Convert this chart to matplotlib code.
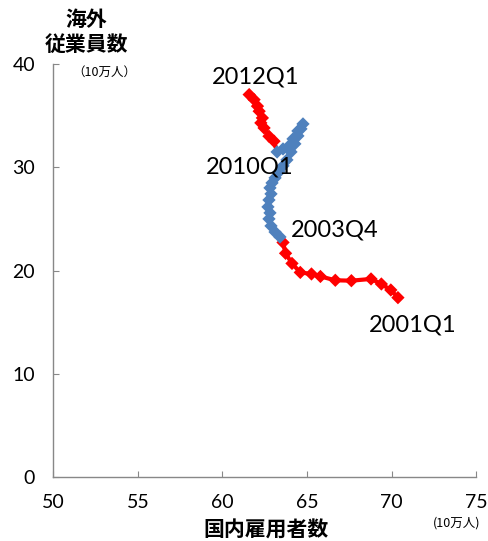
import matplotlib
matplotlib.use("Agg")
import matplotlib.pyplot as plt
import numpy as np

plt.rcParams['font.family'] = ['Lato', 'Noto Sans CJK JP', 'DejaVu Sans']

# Quarterly path: domestic employees (x) vs overseas employees (y), units of 100k people
quarters = [f"{y}Q{q}" for y in range(2001, 2013) for q in range(1, 5)][:45]

domestic = [
    70.37, 69.95, 69.39, 68.78, 67.62, 66.67, 65.79, 65.26, 64.60, 64.11, 63.73, 63.58,
    63.40, 63.11, 62.87, 62.75, 62.81, 62.69, 62.75, 62.87, 62.81, 62.93, 63.11, 63.34,
    63.58, 63.81, 64.05, 64.28, 64.46, 64.64, 64.76, 64.46, 64.17, 63.93, 63.58, 63.23,
    63.05, 62.75, 62.46, 62.27, 62.36, 62.17, 62.07, 61.87, 61.58,
]
overseas = [
    17.39, 18.13, 18.71, 19.20, 19.03, 19.07, 19.44, 19.68, 19.83, 20.70, 21.68, 22.73,
    23.26, 23.74, 24.33, 25.01, 25.59, 26.17, 26.84, 27.43, 28.01, 28.49, 28.98, 29.56,
    30.14, 30.72, 31.49, 32.27, 33.04, 33.72, 34.20, 33.52, 32.75, 32.07, 31.78, 31.49,
    32.53, 33.01, 33.81, 34.30, 34.78, 35.43, 35.92, 36.55, 37.04,
]

# Highlighted periods (red) vs the middle period (blue)
red_periods = [("2001Q1", "2003Q4"), ("2010Q1", "2012Q1")]
annotated = ["2012Q1", "2010Q1", "2003Q4", "2001Q1"]

x_ticks = [50, 55, 60, 65, 70, 75]
y_ticks = [0, 10, 20, 30, 40]

RED = "#FF0000"
BLUE = "#4F81BD"

def is_red(q):
    return any(a <= q <= b for a, b in red_periods)

colors = [RED if is_red(q) else BLUE for q in quarters]

fig = plt.figure(figsize=(4.88, 5.41), dpi=100)
ax = fig.add_axes([0.109, 0.1177, 0.867, 0.764])

x = np.array(domestic)
y = np.array(overseas)

# line segments take the colour of the point they lead to
for i in range(1, len(x)):
    ax.plot(x[i - 1:i + 1], y[i - 1:i + 1], color=colors[i], lw=3.0,
            solid_capstyle="round", zorder=2)
ax.scatter(x, y, marker="D", s=46, c=colors, edgecolors="none", zorder=3)

# label anchors, in data coordinates
label_pos = {
    "2012Q1": (61.99, 38.75),
    "2010Q1": (61.63, 30.04),
    "2003Q4": (66.64, 23.94),
    "2001Q1": (71.23, 14.75),
}
for q in annotated:
    lx, ly = label_pos[q]
    ax.text(lx, ly, q, fontsize=17, ha="center", va="center", color="black",
            family=['Lato', 'DejaVu Sans'])

ax.set_xlim(50, 75)
ax.set_ylim(0, 40)
ax.set_xticks(x_ticks)
ax.set_yticks(y_ticks)
ax.tick_params(axis="both", direction="in", length=4, color="#888888",
               labelsize=14)
ax.tick_params(axis="y", pad=13)
ax.tick_params(axis="x", pad=12)
for side in ("top", "right"):
    ax.spines[side].set_visible(False)
for side in ("left", "bottom"):
    ax.spines[side].set_color("#888888")
    ax.spines[side].set_linewidth(1.0)
ax.patch.set_alpha(0)

fig.text(86 / 488, 1 - 19 / 541, "海外", fontsize=15, fontweight="bold",
         ha="center", va="center", family=['Noto Sans CJK JP'])
fig.text(86 / 488, 1 - 44 / 541, "従業員数", fontsize=15, fontweight="bold",
         ha="center", va="center", family=['Noto Sans CJK JP'])
fig.text(104 / 488, 1 - 72 / 541, "（10万人）", fontsize=9, ha="center", va="center",
         family=['Noto Sans CJK JP'])
fig.text(266 / 488, 1 - 530 / 541, "国内雇用者数", fontsize=15, fontweight="bold",
         ha="center", va="center", family=['Noto Sans CJK JP'])
fig.text(457 / 488, 1 - 523 / 541, "(10万人)", fontsize=9, ha="center", va="center",
         family=['Noto Sans CJK JP'])

fig.savefig("out.png", dpi=100)
